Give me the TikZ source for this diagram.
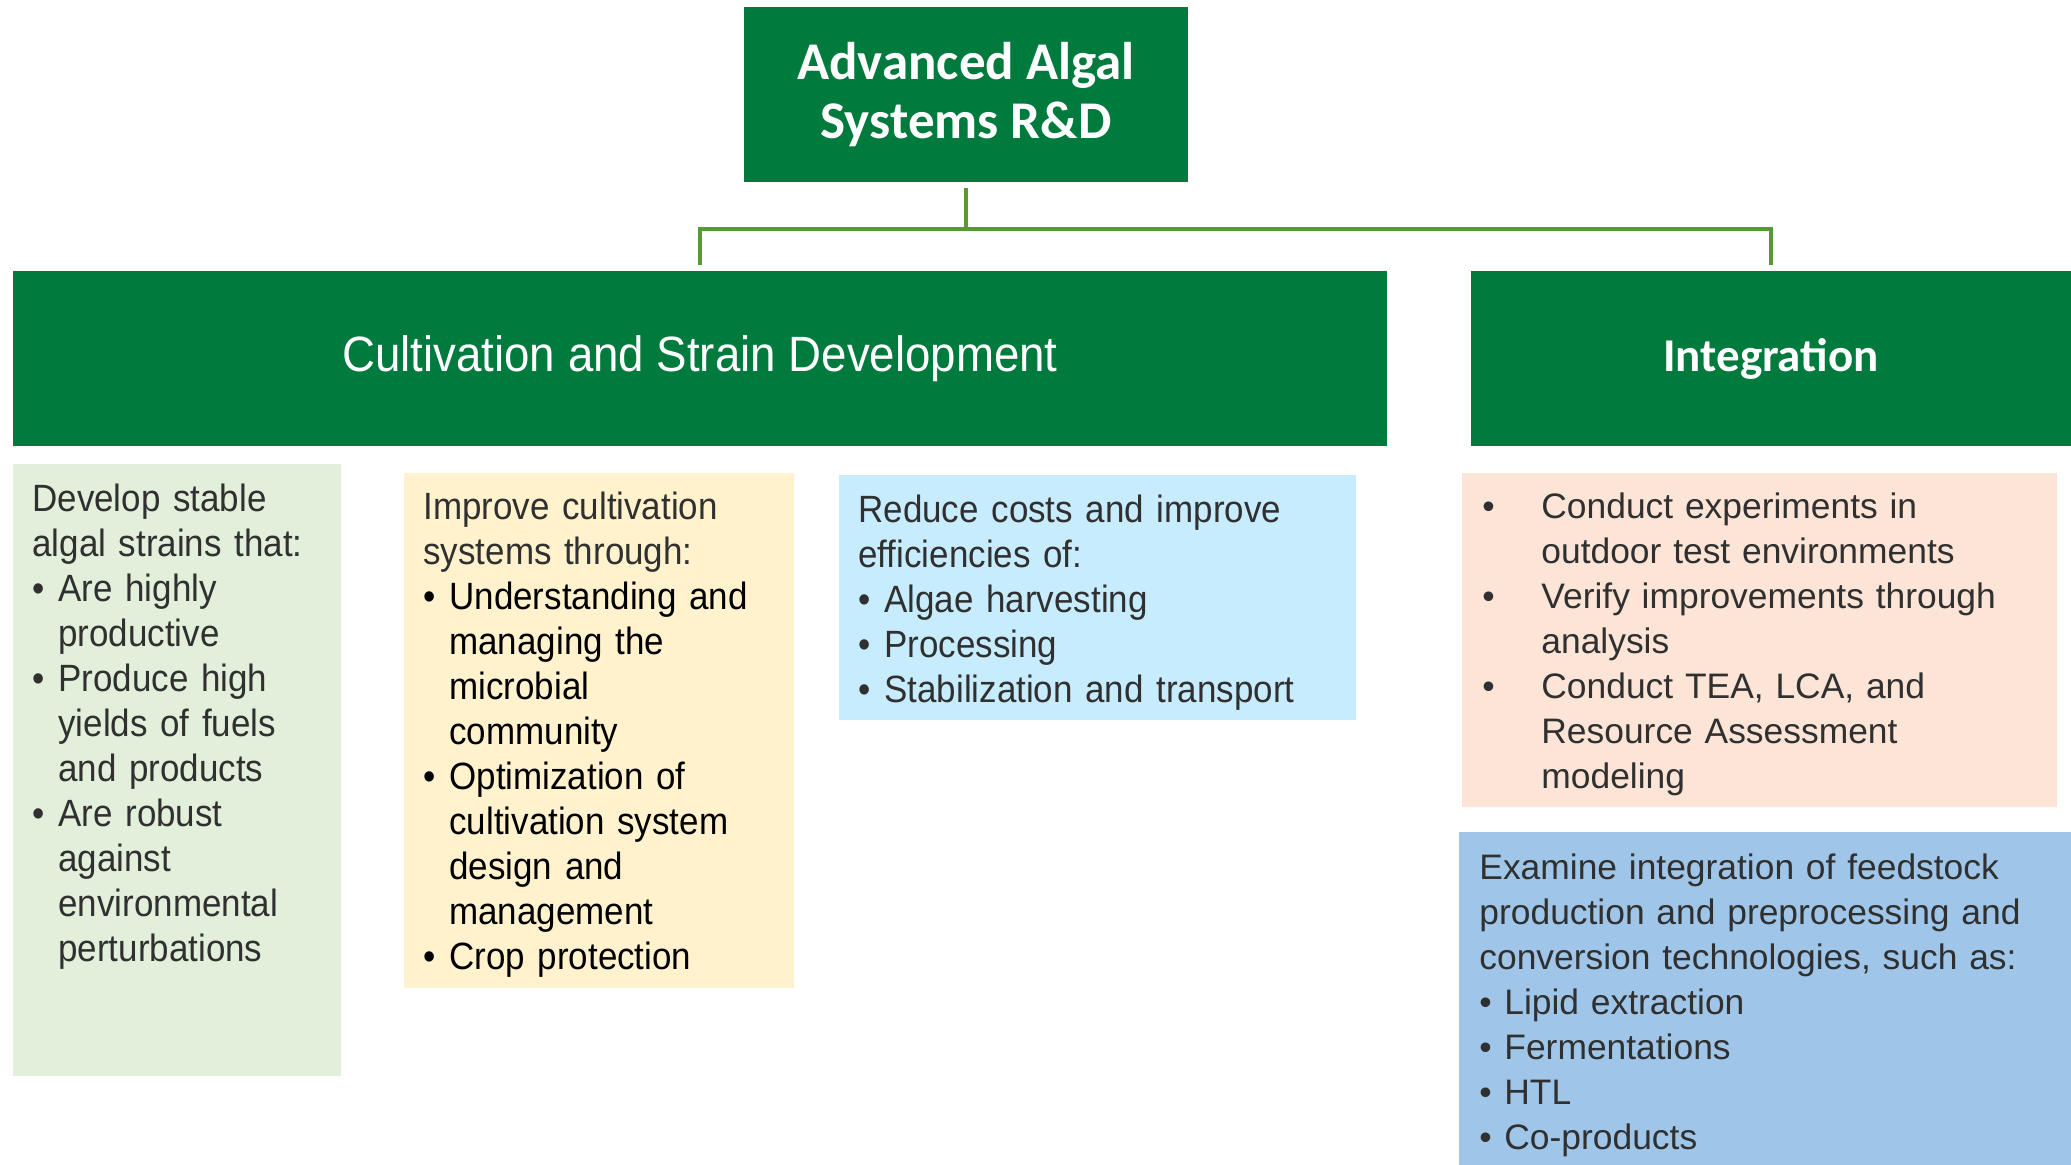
\documentclass[tikz,border=0pt]{standalone}
\usepackage{fontspec}
\setmainfont{Liberation Sans}
\newfontfamily\headfont{Carlito}
\newfontfamily\narrowfont[FakeStretch=0.92]{Liberation Sans}

\definecolor{darkgreen}{RGB}{0,122,61}
\definecolor{linkgreen}{RGB}{88,153,54}
\definecolor{lightgreen}{RGB}{226,239,218}
\definecolor{lightyellow}{RGB}{255,242,204}
\definecolor{lightcyan}{RGB}{199,236,254}
\definecolor{peach}{RGB}{252,228,214}
\definecolor{skyblue}{RGB}{159,198,232}
\definecolor{textgray}{RGB}{48,48,48}

% bullet item with hanging indent
\newcommand\bitem[2][13pt]{\hangindent=#1\hangafter=1\noindent\hbox to #1{\textbullet\hfil}#2\par}

\tikzset{
  head/.style={fill=darkgreen, text=white, inner sep=0pt, align=center},
  pane/.style={inner sep=0pt, anchor=north west},
  body/.style={anchor=north west, inner sep=0pt, align=left, text=textgray},
  narrowtext/.style={font=\narrowfont\fontsize{19}{22.5}\selectfont},
  widetext/.style={font=\fontsize{17.7}{22.5}\selectfont},
  link/.style={draw=linkgreen, line width=2pt},
}

\begin{document}
\begin{tikzpicture}[x=0.5pt, y=-0.5pt]
\clip (0,0) rectangle (2071,1165);
\fill[white] (0,0) rectangle (2071,1165);

% headings
\node[head, minimum width=222pt, minimum height=87.5pt,
  font=\headfont\bfseries\fontsize{26.5}{29.5}\selectfont] (top) at (966,94.5) {\raisebox{-1pt}{Advanced Algal}\\\raisebox{-1pt}{Systems R\&D}};
\node[head, minimum width=687pt, minimum height=87.5pt,
  font=\narrowfont\fontsize{24.8}{28}\selectfont] (cult) at (700,358.5) {\raisebox{-1pt}{Cultivation and Strain Development}};
\node[head, minimum width=300pt, minimum height=87.5pt,
  font=\headfont\bfseries\fontsize{23.5}{28}\selectfont] (integ) at (1771,358.5) {Integration};

\coordinate (fork) at (966,229);
\draw[link] ([yshift=-3pt]top.south) -- (fork);
\draw[link] ([yshift=3pt]cult.north) |- (fork -| integ.north) -- ([yshift=3pt]integ.north);

% coloured panes
\node[pane, fill=lightgreen, minimum width=164pt, minimum height=306pt] (strainbox) at (13,464) {};
\node[pane, fill=lightyellow, minimum width=195pt, minimum height=257.5pt] (cultbox) at (404,473) {};
\node[pane, fill=lightcyan, minimum width=258.5pt, minimum height=122.5pt] (costbox) at (839,475) {};
\node[pane, fill=peach, minimum width=297.5pt, minimum height=167pt] (testbox) at (1462,473) {};
\node[pane, fill=skyblue, minimum width=310.5pt, minimum height=171.5pt] (convbox) at (1459,832) {};

% pane texts
\node[body, narrowtext, text width=190pt] (straintext) at (32,484) {%
  Develop stable\newline algal strains that:\par
  \bitem{Are highly\newline productive}
  \bitem{Produce high\newline yields of fuels\newline and products}
  \bitem{Are robust\newline against\newline environmental\newline perturbations}};
\node[body, narrowtext, text width=210pt] (culttext) at (423,492) {%
  Improve cultivation\newline systems through:\par\color{black}
  \bitem{Understanding and\newline managing the\newline microbial\newline community}
  \bitem{Optimization of\newline cultivation system\newline design and\newline management}
  \bitem{Crop protection}};
\node[body, narrowtext, text width=260pt] (costtext) at (858,495) {%
  Reduce costs and improve\newline efficiencies of:\par
  \bitem{Algae harvesting}
  \bitem{Processing}
  \bitem{Stabilization and transport}};
\node[body, widetext, text width=300pt] (testtext) at (1482,492) {%
  \bitem[29.5pt]{Conduct experiments in\newline outdoor test environments}
  \bitem[29.5pt]{Verify improvements through\newline analysis}
  \bitem[29.5pt]{Conduct TEA, LCA, and\newline Resource Assessment\newline modeling}};
\node[body, widetext, text width=300pt] (convtext) at (1479,853) {%
  Examine integration of feedstock\newline production and preprocessing and\newline conversion technologies, such as:\par
  \bitem[12.5pt]{Lipid extraction}
  \bitem[12.5pt]{Fermentations}
  \bitem[12.5pt]{HTL}
  \bitem[12.5pt]{Co-products}};
\end{tikzpicture}
\end{document}
